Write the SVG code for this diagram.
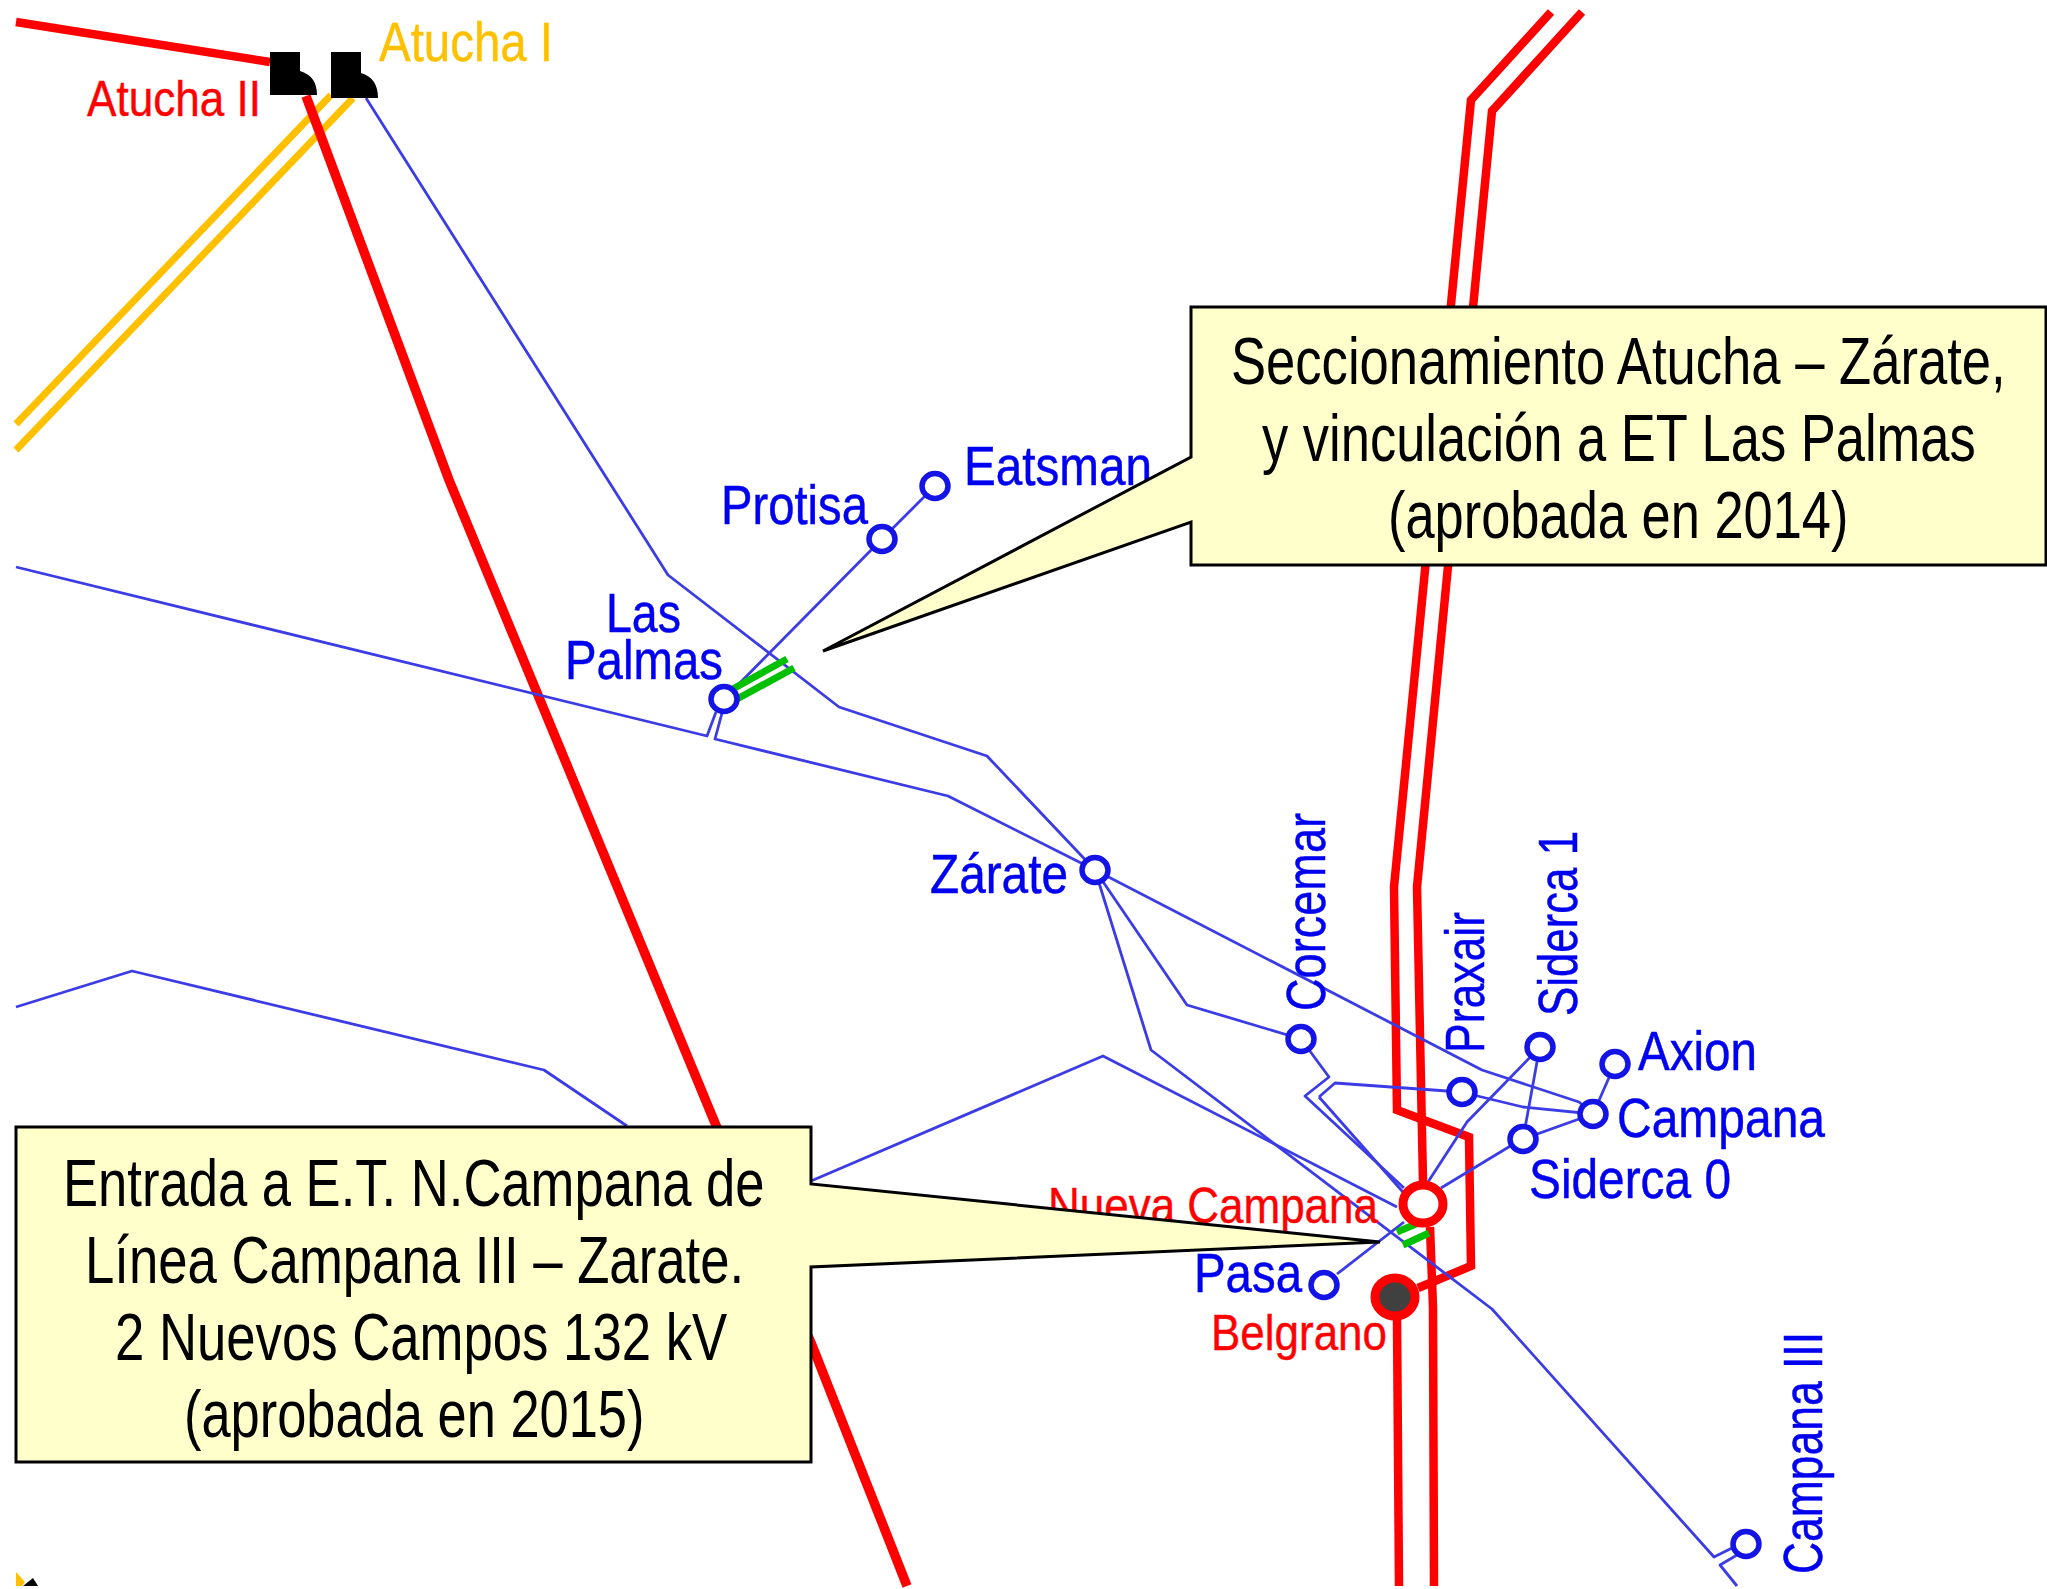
<svg xmlns="http://www.w3.org/2000/svg" width="2047" height="1589" viewBox="0 0 2047 1589">
<style>
text{font-family:"Liberation Sans",Arial,sans-serif}
.b{fill:none;stroke:#3c3ce6;stroke-width:2.8;stroke-linejoin:round}
.r{fill:none;stroke:#f00;stroke-width:8.5;stroke-linejoin:miter}
.y{fill:none;stroke:#ffc000;stroke-width:7}
.g{fill:none;stroke:#00c000;stroke-width:7}
.n{fill:#fff;stroke:#1414e6;stroke-width:5.5}
.rn{fill:#fff;stroke:#f00;stroke-width:9}
.lb{fill:#0000f0;stroke:#0000f0;stroke-width:.5;font-size:55px}
.lr{fill:#f00;stroke:#f00;stroke-width:.4;font-size:50px}
.co{fill:#ffc;stroke:#000;stroke-width:3}
.t{fill:#000;font-size:67px}
</style>
<rect width="2047" height="1589" fill="#fff"/>
<g id="connectors">
<path class="y" d="M16 424L331 95"/>
<path class="y" d="M16 450L353 98"/>
<path class="r" d="M16 22L270 62"/>
<path class="r" style="stroke-width:9.5" d="M306 96L449 480L715 1123L812 1345L907 1586"/>
<path class="r" d="M1551 12L1471 100L1394 887L1397 1110L1469 1137L1471 1266L1418 1288"/>
<path class="r" d="M1582 12L1492 111L1417 887L1423 1182"/>
<path class="r" d="M1430 1227L1433 1307L1434 1586"/>
<path class="r" d="M1397 1318L1399 1586"/>
<path class="b" d="M366 98L668 575L839 707L987 756L1095 870"/>
<path class="b" d="M16 567L707 736L716 712"/>
<path class="b" d="M722 713L715 739L948 796L1095 870"/>
<path class="b" d="M724 699L882 539L935 486"/>
<path class="b" d="M1095 870L1187 1005L1301 1039L1329 1077L1305 1096L1404 1188"/>
<path class="b" d="M1095 870L1151 1050L1492 1309L1714 1557L1732 1548"/>
<path class="b" d="M1737 1555L1720 1565L1737 1586"/>
<path class="b" d="M1095 870L1482 1070L1579 1102L1593 1114"/>
<path class="b" d="M16 1007L132 971L544 1070L627 1126"/>
<path class="b" d="M811 1181L1103 1056L1397 1207"/>
<path class="b" d="M1319 1097L1335 1083L1461 1092L1523 1107L1593 1114"/>
<path class="b" d="M1319 1097L1410 1200"/>
<path class="b" d="M1540 1047L1467 1122L1428 1182"/>
<path class="b" d="M1537 1062L1523 1139"/>
<path class="b" d="M1512 1145L1441 1188"/>
<path class="b" d="M1523 1139L1593 1114"/>
<path class="b" d="M1593 1114L1615 1064"/>
<path class="b" d="M1337 1274L1404 1222"/>
<path class="g" d="M731 690L787 659"/>
<path class="g" d="M737 699L794 668"/>
<path class="g" d="M1397 1232L1423 1221"/>
<path class="g" d="M1403 1245L1429 1233"/>
<path d="M16 1572L25 1582L22 1586H16Z" fill="#ffc000"/>
<path d="M23 1586L33 1578L38 1586Z" fill="#000"/>
</g>
<g id="atucha2"><path d="M270 52H300V71Q317 76 317 95H270Z" fill="#000"/><text class="lr" x="87" y="116" textLength="174" lengthAdjust="spacingAndGlyphs">Atucha II</text></g>
<g id="atucha1"><path d="M331 52H361V73Q378 78 378 98H331Z" fill="#000"/><text x="379" y="61" font-size="56" fill="#ffc000" stroke="#ffc000" stroke-width=".4" textLength="174" lengthAdjust="spacingAndGlyphs">Atucha I</text></g>
<g id="laspalmas"><ellipse class="n" cx="724" cy="699" rx="13" ry="12.5"/><text class="lb" x="606" y="632" textLength="75" lengthAdjust="spacingAndGlyphs">Las</text><text class="lb" x="565" y="679" textLength="158" lengthAdjust="spacingAndGlyphs">Palmas</text></g>
<g id="protisa"><ellipse class="n" cx="882" cy="539" rx="13" ry="12.5"/><text class="lb" x="721" y="524" textLength="147" lengthAdjust="spacingAndGlyphs">Protisa</text></g>
<g id="eatsman"><ellipse class="n" cx="935" cy="486" rx="13" ry="12.5"/><text class="lb" x="964" y="485" textLength="188" lengthAdjust="spacingAndGlyphs">Eatsman</text></g>
<g id="zarate"><ellipse class="n" cx="1095" cy="870" rx="13" ry="12.5"/><text class="lb" x="930" y="893" textLength="138" lengthAdjust="spacingAndGlyphs">Zárate</text></g>
<g id="corcemar"><ellipse class="n" cx="1301" cy="1039" rx="13" ry="12.5"/><text class="lb" transform="translate(1325 1011) rotate(-90)" textLength="198" lengthAdjust="spacingAndGlyphs">Corcemar</text></g>
<g id="praxair"><ellipse class="n" cx="1462" cy="1092" rx="13" ry="12.5"/><text class="lb" transform="translate(1484 1053) rotate(-90)" textLength="141" lengthAdjust="spacingAndGlyphs">Praxair</text></g>
<g id="siderca1"><ellipse class="n" cx="1540" cy="1047" rx="13" ry="12.5"/><text class="lb" transform="translate(1577 1016) rotate(-90)" textLength="185" lengthAdjust="spacingAndGlyphs">Siderca 1</text></g>
<g id="axion"><ellipse class="n" cx="1615" cy="1064" rx="13" ry="12.5"/><text class="lb" x="1638" y="1070" textLength="119" lengthAdjust="spacingAndGlyphs">Axion</text></g>
<g id="campana"><ellipse class="n" cx="1593" cy="1114" rx="13" ry="12.5"/><text class="lb" x="1617" y="1137" textLength="208" lengthAdjust="spacingAndGlyphs">Campana</text></g>
<g id="siderca0"><ellipse class="n" cx="1523" cy="1139" rx="13" ry="12.5"/><text class="lb" x="1529" y="1198" textLength="202" lengthAdjust="spacingAndGlyphs">Siderca 0</text></g>
<g id="nuevacampana"><text class="lr" x="1048" y="1223" textLength="330" lengthAdjust="spacingAndGlyphs">Nueva Campana</text><ellipse class="rn" cx="1423" cy="1204" rx="20" ry="19"/></g>
<g id="pasa"><ellipse class="n" cx="1324" cy="1285" rx="13" ry="12.5"/><text class="lb" x="1194" y="1292" textLength="108" lengthAdjust="spacingAndGlyphs">Pasa</text></g>
<g id="belgrano"><ellipse cx="1395" cy="1297" rx="20" ry="19" fill="#404040" stroke="#f00" stroke-width="9"/><text class="lr" x="1211" y="1350" textLength="176" lengthAdjust="spacingAndGlyphs">Belgrano</text></g>
<g id="campana3"><ellipse class="n" cx="1746" cy="1544" rx="13" ry="12.5"/><text class="lb" transform="translate(1822 1574) rotate(-90)" textLength="242" lengthAdjust="spacingAndGlyphs">Campana III</text></g>
<g id="callout1"><path class="co" d="M1191 307H2046V565H1191V522L823 651L1191 457Z"/>
<text class="t" transform="translate(1231 384) scale(.77 1)" textLength="1006" lengthAdjust="spacingAndGlyphs">Seccionamiento Atucha – Zárate,</text>
<text class="t" transform="translate(1262 461) scale(.77 1)" textLength="927" lengthAdjust="spacingAndGlyphs">y vinculación a ET Las Palmas</text>
<text class="t" transform="translate(1388 538) scale(.77 1)" textLength="598" lengthAdjust="spacingAndGlyphs">(aprobada en 2014)</text></g>
<g id="callout2"><path class="co" d="M16 1127H811V1184L1380 1242L811 1267V1462H16Z"/>
<text class="t" transform="translate(63 1206) scale(.77 1)" textLength="911" lengthAdjust="spacingAndGlyphs">Entrada a E.T. N.Campana de</text>
<text class="t" transform="translate(85 1283) scale(.77 1)" textLength="856" lengthAdjust="spacingAndGlyphs">Línea Campana III – Zarate.</text>
<text class="t" transform="translate(115 1360) scale(.77 1)" textLength="795" lengthAdjust="spacingAndGlyphs">2 Nuevos Campos 132 kV</text>
<text class="t" transform="translate(184 1437) scale(.77 1)" textLength="598" lengthAdjust="spacingAndGlyphs">(aprobada en 2015)</text></g>
</svg>
